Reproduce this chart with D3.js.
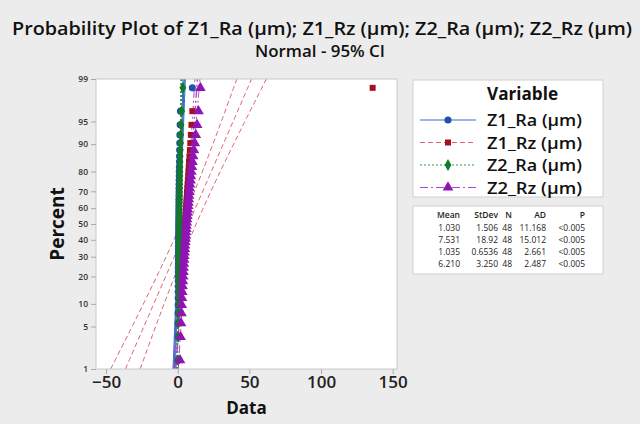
<!DOCTYPE html>
<html>
<head>
<meta charset="utf-8">
<script src="https://cdn.jsdelivr.net/npm/d3@7"></script>
<style>
  body { margin: 0; background: #ececec; }
  svg { display: block; font-family: "Open Sans", "Noto Sans", sans-serif; }
</style>
</head>
<body>
<script>
const seriesNames = ['Z1_Ra (μm)', 'Z1_Rz (μm)', 'Z2_Ra (μm)', 'Z2_Rz (μm)'];
const z1Ra = [0.21, 0.25, 0.28, 0.30, 0.33, 0.35, 0.37, 0.39, 0.41, 0.43, 0.45, 0.47, 0.49, 0.51, 0.53, 0.55,
  0.57, 0.59, 0.61, 0.63, 0.65, 0.67, 0.69, 0.71, 0.73, 0.75, 0.77, 0.79, 0.81, 0.83, 0.85, 0.88,
  0.91, 0.94, 0.97, 1.00, 1.04, 1.08, 1.12, 1.17, 1.22, 1.28, 1.35, 1.43, 1.55, 1.70, 1.95, 10.2];
const z1Rz = [0.9, 1.2, 1.5, 1.7, 1.9, 2.1, 2.3, 2.5, 2.7, 2.9, 3.0, 3.2, 3.4, 3.5, 3.7, 3.8,
  4.0, 4.1, 4.3, 4.4, 4.6, 4.7, 4.9, 5.0, 5.2, 5.3, 5.5, 5.6, 5.8, 5.9, 6.1, 6.2,
  6.4, 6.5, 6.7, 6.9, 7.1, 7.3, 7.5, 7.7, 7.9, 8.2, 8.5, 8.8, 9.2, 9.6, 10.2, 136];
const z2Ra = [0.25, 0.32, 0.38, 0.42, 0.46, 0.50, 0.53, 0.56, 0.59, 0.62, 0.65, 0.68, 0.71, 0.74, 0.77, 0.80,
  0.83, 0.86, 0.89, 0.92, 0.95, 0.98, 1.01, 1.04, 1.07, 1.10, 1.13, 1.16, 1.19, 1.22, 1.25, 1.28,
  1.31, 1.34, 1.38, 1.42, 1.46, 1.50, 1.55, 1.60, 1.66, 1.73, 1.82, 1.95, 2.10, 2.35, 2.80, 3.60];
const z2Rz = [1.6, 2.0, 2.3, 2.6, 2.8, 3.0, 3.2, 3.4, 3.6, 3.8, 4.0, 4.1, 4.3, 4.5, 4.6, 4.8,
  5.0, 5.1, 5.3, 5.5, 5.6, 5.8, 6.0, 6.1, 6.3, 6.5, 6.7, 6.9, 7.1, 7.3, 7.5, 7.7,
  7.9, 8.1, 8.3, 8.6, 8.9, 9.2, 9.5, 9.9, 10.3, 10.8, 11.3, 11.9, 12.6, 13.5, 14.5, 15.8];

// summary table
const statHeaders = ['Mean', 'StDev', 'N', 'AD', 'P'];
const means = [1.030, 7.531, 1.035, 6.210];
const stdevs = [1.506, 18.92, 0.6536, 3.250];
const ns = [48, 48, 48, 48];
const statRows = [
  ['1.030', '1.506', '48', '11.168', '<0.005'],
  ['7.531', '18.92', '48', '15.012', '<0.005'],
  ['1.035', '0.6536', '48', '2.661', '<0.005'],
  ['6.210', '3.250', '48', '2.487', '<0.005']
];

const percentTicks = [1, 5, 10, 20, 30, 40, 50, 60, 70, 80, 90, 95, 99];
const xTicks = [-50, 0, 50, 100, 150];

const colors = ['#1f52a8', '#a3101e', '#137a28', '#9014b4'];
const lineColors = ['#3a6cc4', '#e06374', '#2f9a48', '#a94ac8'];
const dashes = [null, '5,3', '2,2', '8,3,2,3'];
const symbols = [d3.symbolCircle, d3.symbolSquare, d3.symbolDiamond, d3.symbolTriangle];
const symSizes = [40, 36, 40, 50];

// inverse normal cdf (Acklam)
function qnorm(p) {
  const a = [-39.69683028665376, 220.9460984245205, -275.9285104469687, 138.3577518672690, -30.66479806614716, 2.506628277459239];
  const b = [-54.47609879822406, 161.5858368580409, -155.6989798598866, 66.80131188771972, -13.28068155288572];
  const c = [-0.007784894002430293, -0.3223964580411365, -2.400758277161838, -2.549732539343734, 4.374664141464968, 2.938163982698783];
  const d = [0.007784695709041462, 0.3224671290700398, 2.445134137142996, 3.754408661907416];
  const pl = 0.02425;
  let q, r;
  if (p < pl) {
    q = Math.sqrt(-2 * Math.log(p));
    return (((((c[0]*q+c[1])*q+c[2])*q+c[3])*q+c[4])*q+c[5]) / ((((d[0]*q+d[1])*q+d[2])*q+d[3])*q+1);
  }
  if (p > 1 - pl) {
    q = Math.sqrt(-2 * Math.log(1 - p));
    return -(((((c[0]*q+c[1])*q+c[2])*q+c[3])*q+c[4])*q+c[5]) / ((((d[0]*q+d[1])*q+d[2])*q+d[3])*q+1);
  }
  q = p - 0.5; r = q * q;
  return (((((a[0]*r+a[1])*r+a[2])*r+a[3])*r+a[4])*r+a[5])*q / (((((b[0]*r+b[1])*r+b[2])*r+b[3])*r+b[4])*r+1);
}

const W = 640, H = 424;
const pLeft = 96, pRight = 397, pTop = 79, pBottom = 369;

const svg = d3.select('body').append('svg').attr('width', W).attr('height', H);
svg.append('rect').attr('width', W).attr('height', H).attr('fill', '#ececec');

// title (stretched a little, like the picture)
svg.append('text').attr('x', 322).attr('y', 35).attr('text-anchor', 'middle')
  .attr('font-size', 18).attr('font-weight', 600).attr('fill', '#111')
  .attr('textLength', 620).attr('lengthAdjust', 'spacingAndGlyphs')
  .text('Probability Plot of ' + seriesNames.join('; '));
svg.append('text').attr('x', 320).attr('y', 57).attr('text-anchor', 'middle')
  .attr('font-size', 15.5).attr('font-weight', 600).attr('fill', '#111')
  .attr('textLength', 130).attr('lengthAdjust', 'spacingAndGlyphs')
  .text('Normal - 95% CI');

const zLo = qnorm(0.01), zHi = qnorm(0.99);
const x = d3.scaleLinear().domain([-57, 153]).range([pLeft, pRight]);
const y = d3.scaleLinear().domain([zLo, zHi]).range([pBottom, pTop]);

svg.append('rect').attr('x', pLeft).attr('y', pTop).attr('width', pRight - pLeft).attr('height', pBottom - pTop)
  .attr('fill', '#fff');

svg.append('clipPath').attr('id', 'clip').append('rect')
  .attr('x', pLeft).attr('y', pTop).attr('width', pRight - pLeft).attr('height', pBottom - pTop);
const plot = svg.append('g').attr('clip-path', 'url(#clip)');

// fitted lines and 95% CI bands
const zs = d3.range(0, 61).map((i) => zLo + (zHi - zLo) * i / 60);
const line = d3.line().x((d) => x(d[0])).y((d) => y(d[1]));
means.forEach((m, k) => {
  const s = stdevs[k], n = ns[k];
  const fit = zs.map((z) => [m + z * s, z]);
  const se = (z) => Math.sqrt(s * s / n + z * z * s * s / (2 * n));
  const lo = zs.map((z) => [m + z * s - 1.96 * se(z), z]);
  const hi = zs.map((z) => [m + z * s + 1.96 * se(z), z]);
  [lo, fit, hi].forEach((pts, j) => {
    plot.append('path').attr('d', line(pts)).attr('fill', 'none')
      .attr('stroke', lineColors[k])
      .attr('stroke-width', j === 1 && k !== 1 ? 1.4 : 1)
      .attr('stroke-dasharray', dashes[k]);
  });
});

// data points
[z1Ra, z1Rz, z2Ra, z2Rz].forEach((vals, k) => {
  const n = vals.length;
  plot.append('g').selectAll('path').data(vals).enter().append('path')
    .attr('d', d3.symbol().type(symbols[k]).size(symSizes[k]))
    .attr('transform', (v, i) => 'translate(' + x(v) + ',' + y(qnorm((i + 1 - 0.3) / (n + 0.4))) + ')')
    .attr('fill', colors[k]);
});

svg.append('rect').attr('x', pLeft).attr('y', pTop).attr('width', pRight - pLeft).attr('height', pBottom - pTop)
  .attr('fill', 'none').attr('stroke', '#c8c8c8');

// axes
const yAxis = d3.axisLeft(y).tickValues(percentTicks.map((p) => qnorm(p / 100)))
  .tickFormat((d, i) => percentTicks[i]).tickSize(5).tickPadding(3);
const gy = svg.append('g').attr('transform', 'translate(' + pLeft + ',0)').call(yAxis);
gy.select('.domain').remove();
gy.selectAll('line').attr('stroke', '#aaa');
gy.selectAll('text').attr('font-size', 8.5).attr('font-weight', 600).attr('fill', '#333')
  .attr('font-family', '"Open Sans", sans-serif');

const xAxis = d3.axisBottom(x).tickValues(xTicks).tickSize(5).tickPadding(2);
const gx = svg.append('g').attr('transform', 'translate(0,' + pBottom + ')').call(xAxis);
gx.select('.domain').remove();
gx.selectAll('line').attr('stroke', '#aaa');
gx.selectAll('text').attr('font-size', 17).attr('font-weight', 600).attr('fill', '#222')
  .attr('font-family', '"Open Sans", sans-serif');

svg.append('text').attr('x', (pLeft + pRight) / 2).attr('y', 414).attr('text-anchor', 'middle')
  .attr('font-size', 17).attr('font-weight', 700).attr('fill', '#111').text('Data');
svg.append('text').attr('transform', 'translate(64,' + ((pTop + pBottom) / 2) + ') rotate(-90)')
  .attr('text-anchor', 'middle').attr('font-size', 19).attr('font-weight', 700).attr('fill', '#111')
  .text('Percent');

// legend
const lg = svg.append('g');
lg.append('rect').attr('x', 413).attr('y', 80).attr('width', 190).attr('height', 117)
  .attr('fill', '#fff').attr('stroke', '#cfcfcf');
lg.append('text').attr('x', 487).attr('y', 100).attr('font-size', 17).attr('font-weight', 700)
  .attr('fill', '#111').attr('textLength', 71).attr('lengthAdjust', 'spacingAndGlyphs').text('Variable');
seriesNames.forEach((name, k) => {
  const cy = 120 + k * 22.5;
  lg.append('line').attr('x1', 420).attr('x2', 476).attr('y1', cy).attr('y2', cy)
    .attr('stroke', lineColors[k]).attr('stroke-width', 1.2).attr('stroke-dasharray', dashes[k]);
  lg.append('path').attr('d', d3.symbol().type(symbols[k]).size(symSizes[k]))
    .attr('transform', 'translate(448,' + cy + ')').attr('fill', colors[k]);
  lg.append('text').attr('x', 487).attr('y', cy + 6).attr('font-size', 16.5).attr('font-weight', 600)
    .attr('fill', '#111').attr('textLength', 95).attr('lengthAdjust', 'spacingAndGlyphs').text(name);
});

// stats table
const colRight = [460, 498, 512, 546, 585];
lg.append('rect').attr('x', 413).attr('y', 206).attr('width', 190).attr('height', 68)
  .attr('fill', '#fff').attr('stroke', '#cfcfcf');
statHeaders.forEach((h, j) => {
  lg.append('text').attr('x', colRight[j]).attr('y', 218).attr('text-anchor', 'end')
    .attr('font-size', 8.5).attr('font-weight', 600).attr('fill', '#222').text(h);
});
statRows.forEach((row, i) => {
  row.forEach((v, j) => {
    lg.append('text').attr('x', colRight[j]).attr('y', 231 + i * 12).attr('text-anchor', 'end')
      .attr('font-size', 8.5).attr('fill', '#222').text(v);
  });
});
</script>
</body>
</html>
